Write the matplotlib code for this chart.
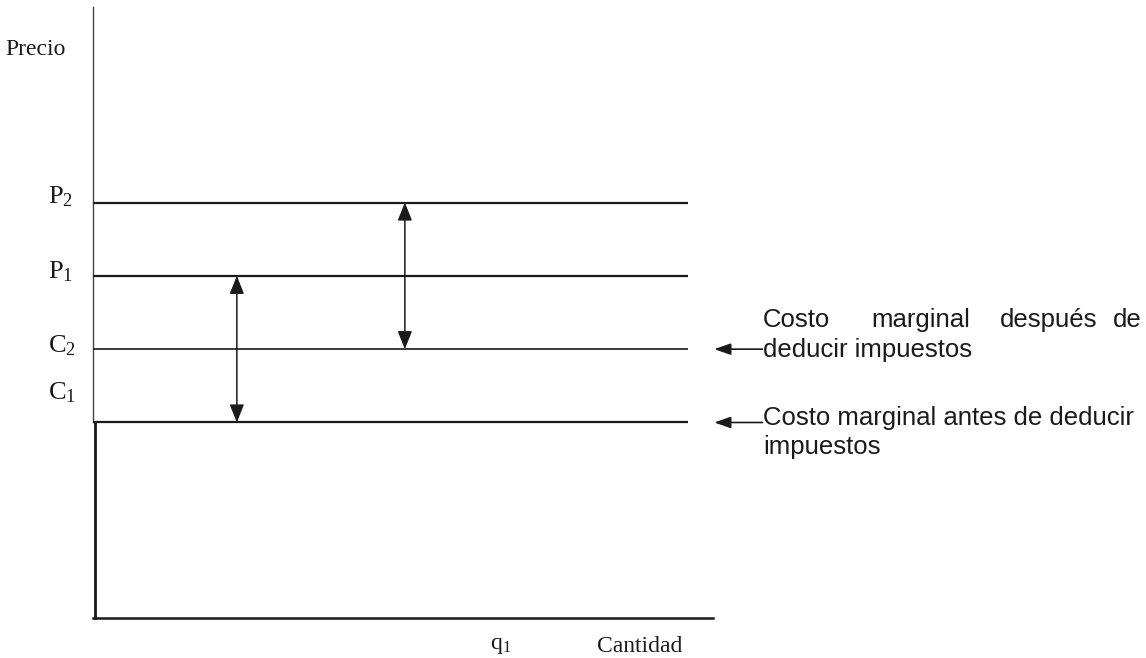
import matplotlib
matplotlib.use("Agg")
import matplotlib.pyplot as plt

# ---- data (abstract units: quantity 0-10, price 0-10) ----
level_names = ["P2", "P1", "C2", "C1"]
level_values = [6.8, 5.6, 4.4, 3.2]
level_labels = [r"$\mathrm{P}_2$", r"$\mathrm{P}_1$", r"$\mathrm{C}_2$", r"$\mathrm{C}_1$"]
line_end = 9.6
x_axis_end = 10.0
y_axis_top = 10.0
tax_arrow_x = [5.03, 2.32]           # arrow between P2-C2 and P1-C1
tax_arrow_pairs = [("P2", "C2"), ("P1", "C1")]
q1_value = 6.4

plt.rcParams["mathtext.fontset"] = "custom"
plt.rcParams["mathtext.rm"] = "Liberation Serif"
plt.rcParams["mathtext.it"] = "Liberation Serif:italic"

W, H = 1146, 658
fig = plt.figure(figsize=(W / 100, H / 100), dpi=100)
ax = fig.add_axes([93 / W, (H - 618) / H, 620 / W, 611 / H])
ax.set_xlim(0, 10)
ax.set_ylim(0, 10)
ax.axis("off")

lv = dict(zip(level_names, level_values))
ink = "#1a1a1a"

# axes
ax.plot([0, 0], [lv["C1"], y_axis_top], color="#444444", lw=1.0, clip_on=False)
ax.plot([0.03, 0.03], [0, lv["C1"]], color=ink, lw=2.0, clip_on=False)
ax.plot([0, x_axis_end], [0, 0], color=ink, lw=1.8, clip_on=False)

# horizontal levels
for name, val in zip(level_names, level_values):
    ax.plot([0, line_end], [val, val], color=ink, lw=1.6 if name != "C2" else 1.2,
            solid_capstyle="butt", clip_on=False)

# double arrows
for xa, (top, bot) in zip(tax_arrow_x, tax_arrow_pairs):
    ax.annotate("", xy=(xa, lv[top]), xytext=(xa, lv[bot]),
                arrowprops=dict(arrowstyle="<|-|>,head_length=1.0,head_width=0.4",
                                color=ink, lw=1.1, shrinkA=0, shrinkB=0,
                                mutation_scale=11))

serif = "Liberation Serif"
sans = "Liberation Sans"
fs_serif = 17
fs_sans = 18.5

# left labels
ax.text(-1.42, 9.30, "Precio", family=serif, fontsize=fs_serif, ha="left", va="center",
        color=ink, clip_on=False)
label_baselines = [6.79, 5.56, 4.35, 3.57]
for lab, yb in zip(level_labels, label_baselines):
    ax.text(-0.73, yb, lab, fontsize=fs_serif + 2, ha="left", va="baseline",
            color=ink, clip_on=False)

# bottom labels
ax.text(q1_value, -0.43, r"$\mathrm{q}_1$", fontsize=fs_serif, ha="left", va="center",
        color=ink, clip_on=False)
ax.text(8.13, -0.47, "Cantidad", family=serif, fontsize=fs_serif, ha="left", va="center",
        color=ink, clip_on=False)

# right annotations
words1 = ["Costo", "marginal", "después", "de"]
words1_x = [10.81, 12.56, 14.63, 16.45]
for w, xw in zip(words1, words1_x):
    ax.text(xw, 4.88, w, family=sans, fontsize=fs_sans, ha="left", va="center",
            color=ink, clip_on=False)
ax.text(10.81, 4.39, "deducir impuestos", family=sans, fontsize=fs_sans, ha="left",
        va="center", color=ink, clip_on=False)
ax.text(10.81, 3.27, "Costo marginal antes de deducir", family=sans, fontsize=fs_sans,
        ha="left", va="center", color=ink, clip_on=False)
ax.text(10.81, 2.80, "impuestos", family=sans, fontsize=fs_sans, ha="left",
        va="center", color=ink, clip_on=False)

for name in ["C2", "C1"]:
    ax.annotate("", xy=(10.02, lv[name]), xytext=(10.80, lv[name]),
                arrowprops=dict(arrowstyle="-|>,head_length=1.0,head_width=0.35",
                                color=ink, lw=1.2, shrinkA=0, shrinkB=0,
                                mutation_scale=10),
                annotation_clip=False)

fig.savefig("out.png", dpi=100, facecolor="white")
